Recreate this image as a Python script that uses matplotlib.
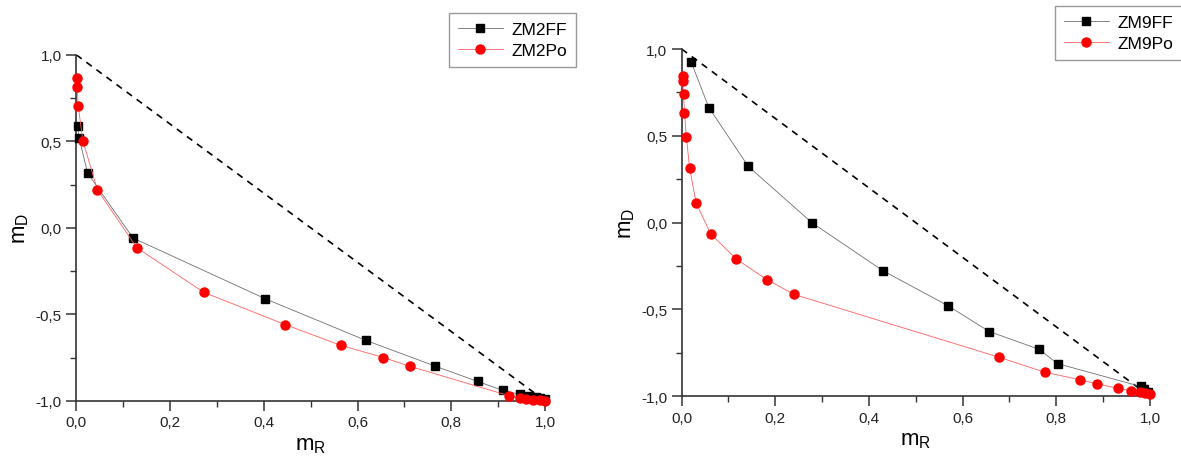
import matplotlib
matplotlib.use("Agg")
import matplotlib.pyplot as plt
from matplotlib.ticker import FuncFormatter, MultipleLocator

plt.rcParams["font.family"] = ["Liberation Sans", "DejaVu Sans"]
plt.rcParams["mathtext.default"] = "regular"

# ZM2 series
zm2ff_x = [0.0027, 0.006, 0.024, 0.121, 0.403, 0.617, 0.766, 0.856, 0.91, 0.946, 0.965, 0.98, 0.99, 1.0]
zm2ff_y = [0.587, 0.52, 0.317, -0.059, -0.41, -0.65, -0.80, -0.888, -0.94, -0.963, -0.975, -0.98, -0.985, -0.99]
zm2po_x = [0.002, 0.002, 0.004, 0.014, 0.045, 0.129, 0.272, 0.446, 0.564, 0.655, 0.711,
           0.922, 0.946, 0.96, 0.975, 0.99, 1.0]
zm2po_y = [0.864, 0.815, 0.706, 0.503, 0.22, -0.115, -0.373, -0.56, -0.679, -0.75, -0.80,
           -0.97, -0.985, -0.99, -0.993, -0.996, -1.0]

# ZM9 series
zm9ff_x = [0.02, 0.058, 0.142, 0.278, 0.43, 0.568, 0.657, 0.763, 0.803, 0.98, 0.987, 0.995]
zm9ff_y = [0.927, 0.663, 0.325, 0.0, -0.277, -0.477, -0.627, -0.729, -0.812, -0.943, -0.96, -0.975]
zm9po_x = [0.002, 0.002, 0.004, 0.006, 0.01, 0.017, 0.031, 0.062, 0.117, 0.182, 0.24,
           0.678, 0.775, 0.85, 0.888, 0.932, 0.96, 0.978, 0.989, 1.0]
zm9po_y = [0.846, 0.813, 0.74, 0.63, 0.493, 0.313, 0.113, -0.065, -0.21, -0.328, -0.413,
           -0.775, -0.861, -0.904, -0.929, -0.954, -0.967, -0.977, -0.98, -0.985]

# reference diagonal
diag_x = [0.0, 1.0]
diag_y = [1.0, -1.0]

comma = FuncFormatter(lambda v, p: f"{v:.1f}".replace(".", ","))


def style_axes(ax):
    ax.set_xlim(0, 1)
    ax.set_ylim(-1, 1)
    for s in ("top", "right"):
        ax.spines[s].set_visible(False)
    for s in ("left", "bottom"):
        ax.spines[s].set_linewidth(1.2)
        ax.spines[s].set_color("#333333")
    ax.xaxis.set_major_locator(MultipleLocator(0.2))
    ax.xaxis.set_minor_locator(MultipleLocator(0.1))
    ax.yaxis.set_major_locator(MultipleLocator(0.5))
    ax.yaxis.set_minor_locator(MultipleLocator(0.25))
    ax.xaxis.set_major_formatter(comma)
    ax.yaxis.set_major_formatter(comma)
    ax.tick_params(which="major", direction="out", length=7, width=1.1, labelsize=11,
                   color="#333333", labelcolor="#222222")
    ax.tick_params(which="minor", direction="out", length=4, width=1.0, color="#333333")
    ax.set_xlabel("$m_R$", fontsize=16, labelpad=3)
    ax.set_ylabel("$m_D$", fontsize=16, labelpad=3)


def draw_panel(ax, ff_x, ff_y, po_x, po_y, labels):
    ax.plot(diag_x, diag_y, color="black", linestyle=(0, (4, 3.5)), linewidth=1.2)
    ax.plot(ff_x, ff_y, color="#707070", linewidth=0.6, marker="s", markersize=6,
            markerfacecolor="black", markeredgecolor="black",
            label=labels[0], clip_on=False, zorder=3)
    ax.plot(po_x, po_y, color="#ff6060", linewidth=0.6, marker="o", markersize=6.5,
            markerfacecolor="red", markeredgecolor="red",
            label=labels[1], clip_on=False, zorder=4)
    style_axes(ax)


fig = plt.figure(figsize=(11.81, 4.64), dpi=100)
ax1 = fig.add_axes([0.0646, 0.134, 0.397, 0.7457])
ax2 = fig.add_axes([0.5772, 0.1437, 0.3965, 0.7485])

draw_panel(ax1, zm2ff_x, zm2ff_y, zm2po_x, zm2po_y, ["ZM2FF", "ZM2Po"])
draw_panel(ax2, zm9ff_x, zm9ff_y, zm9po_x, zm9po_y, ["ZM9FF", "ZM9Po"])

for ax, anchor in ((ax1, (449 / 1181, 1 - 14 / 464)), (ax2, (1055 / 1181, 1 - 7 / 464))):
    leg = ax.legend(loc="upper left", bbox_to_anchor=anchor, bbox_transform=fig.transFigure,
                    fontsize=12.5, fancybox=False, handlelength=2.6, borderpad=0.5,
                    labelspacing=0.35, handletextpad=0.5, borderaxespad=0, framealpha=1)
    leg.get_frame().set_edgecolor("#999999")
    leg.get_frame().set_linewidth(1.0)

fig.savefig("out.png", dpi=100)
plt.close(fig)
